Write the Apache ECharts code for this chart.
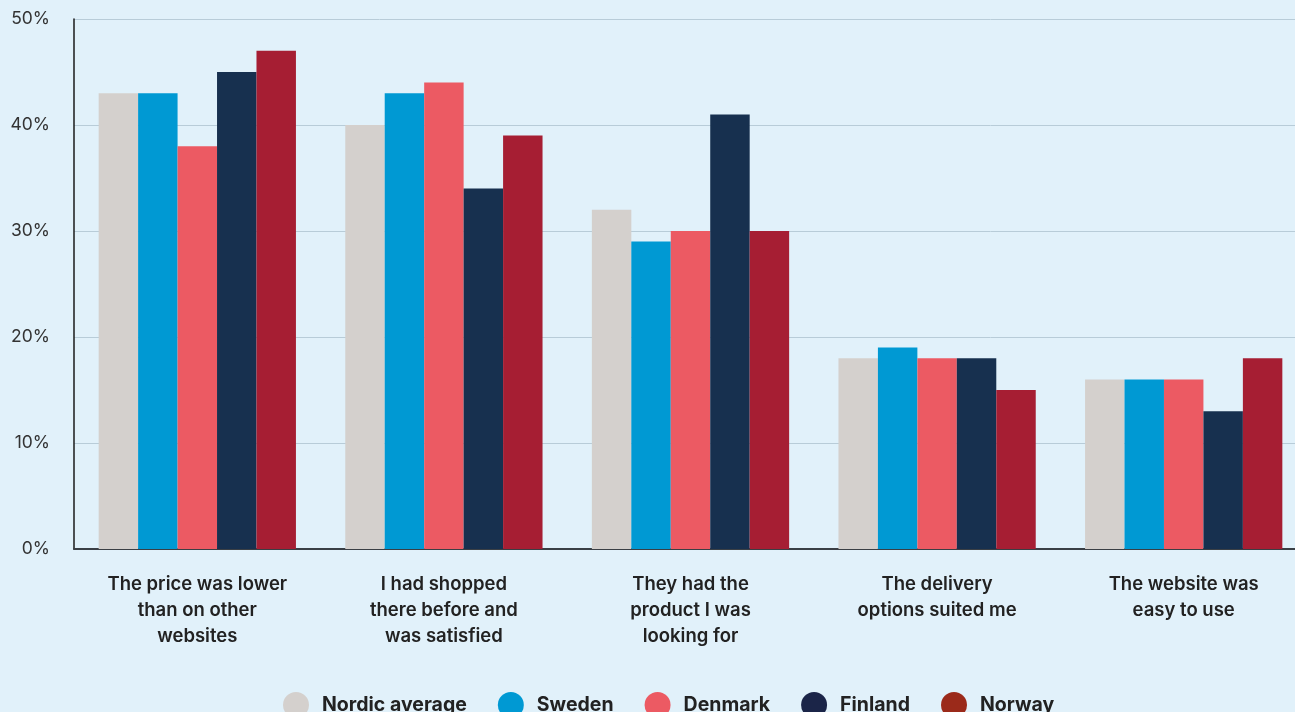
<!DOCTYPE html>
<html><head><meta charset="utf-8">
<style>html,body{margin:0;padding:0;background:#E1F1FA;}#c{width:1295px;height:712px;}</style>
<script src="https://cdn.jsdelivr.net/npm/echarts@6/dist/echarts.min.js"></script>
</head><body><div id="c"></div>
<script>
const categories = [
  "The price was lower\nthan on other\nwebsites",
  "I had shopped\nthere before and\nwas satisfied",
  "They had the\nproduct I was\nlooking for",
  "The delivery\noptions suited me",
  "The website was\neasy to use"
];
const seriesNames = ["Nordic average", "Sweden", "Denmark", "Finland", "Norway"];
const nordicAverage = [43, 40, 32, 18, 16];
const sweden = [43, 43, 29, 19, 16];
const denmark = [38, 44, 30, 18, 16];
const finland = [45, 34, 41, 18, 13];
const norway = [47, 39, 30, 15, 18];
const yTicks = [0, 10, 20, 30, 40, 50];

const barColors = ["#D4D0CD", "#0099D3", "#EC5A63", "#17304F", "#A61E33"];
const legendColors = ["#D4D0CD", "#0099D3", "#EC5A63", "#1B2548", "#9B2A1A"];
const allData = [nordicAverage, sweden, denmark, finland, norway];

const chart = echarts.init(document.getElementById('c'));
chart.setOption({
  backgroundColor: '#E1F1FA',
  animation: false,
  grid: {left: 74, width: 1233, top: 19, bottom: 163, containLabel: false, outerBoundsMode: 'none'},
  legend: {
    left: 278, top: 687,
    icon: 'circle', itemWidth: 26, itemHeight: 26, itemGap: 31,
    data: seriesNames.map((n, i) => ({name: n, itemStyle: {color: legendColors[i]}})),
    textStyle: {fontFamily: 'Inter', fontWeight: 700, fontSize: 19.5, color: '#222', padding: [0, 0, 0, 8]}
  },
  xAxis: {
    type: 'category', data: categories,
    axisLine: {lineStyle: {color: '#3a3f45', width: 2}},
    axisTick: {show: false},
    axisLabel: {margin: 22, interval: 0, fontFamily: 'Inter', fontWeight: 600, fontSize: 18.5, color: '#222', lineHeight: 26, align: 'center'}
  },
  yAxis: {
    type: 'value', min: yTicks[0], max: yTicks[yTicks.length - 1], interval: 10,
    axisLine: {show: true, lineStyle: {color: '#1a1a1a', width: 1.5}},
    axisTick: {show: false},
    splitLine: {lineStyle: {color: '#B8CCD8', width: 1}},
    axisLabel: {margin: 24, fontFamily: 'Inter', fontSize: 17.5, color: '#333', formatter: v => v + '%'}
  },
  series: seriesNames.map((n, i) => ({
    name: n, type: 'bar', data: allData[i],
    barGap: '0%', barCategoryGap: '20%',
    itemStyle: {color: barColors[i]}
  }))
});
</script></body></html>
